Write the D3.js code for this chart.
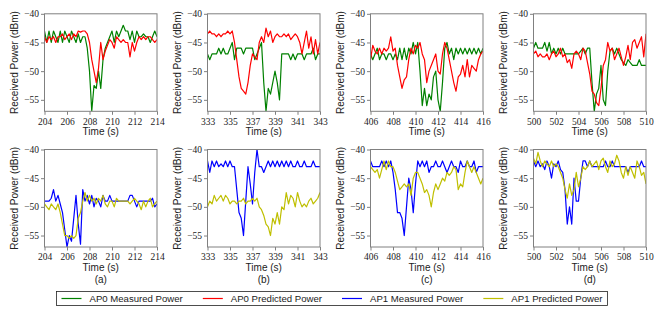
<!DOCTYPE html>
<html>
<head>
<meta charset="utf-8">
<script src="https://cdn.jsdelivr.net/npm/d3@7"></script>
<style>
  body { margin: 0; background: #fff; }
  svg { display: block; }
</style>
</head>
<body>
<div id="chart"></div>
<script>
// time window start of each panel (s), samples every 0.2 s over 10 s
const panelStarts = [204, 333, 406, 500];
const sampleStep = 0.2;
const panelNames = ["(a)", "(b)", "(c)", "(d)"];
const yTicks = [-40, -45, -50, -55];

// AP0 (top row)
const ap0MeasA = [-43,-45,-43,-45,-43,-44,-45,-43,-45,-43, -44,-45,-43,-44,-45,-43.5,-45,-44,-44,-46, -50,-57,-52.5,-53,-50,-53,-48,-46,-45,-44, -43,-45,-43,-44,-43,-42,-43,-43,-44.5,-43, -45,-43,-44,-44,-43.5,-44,-44,-45,-44,-43, -44];
const ap0PredA = [-44,-45,-44,-44.5,-44,-45,-44,-44,-43.5,-44.5, -44,-43.5,-44.5,-43.5,-44,-43,-43.2,-43,-43,-43.5, -45,-48,-50,-52,-49.5,-45,-48,-46.5,-45.5,-44.5, -45,-46,-44,-44.5,-45,-44.5,-45,-45,-47.5,-45, -46.5,-45,-44,-44.5,-44,-44.5,-44,-44,-44.5,-45, -44.5];
const ap0MeasB = [-47,-48,-47,-47,-47,-46,-47,-46,-47,-47, -46,-45,-48,-46,-46,-46,-47,-46,-46,-46, -46,-48,-47,-46,-45,-52,-57,-53,-54,-52, -50,-52,-55,-47,-47,-47,-47,-48,-47,-48, -47,-47,-47,-48,-47,-47,-47,-46,-48,-47, -47];
const ap0PredB = [-43.5,-43,-43.5,-43.5,-44,-43.5,-44,-43.5,-43.5,-43, -43.5,-43,-45,-48,-51,-53,-53.5,-54,-52,-49, -47,-47.5,-48,-45,-44,-45,-42.5,-44,-43,-45, -44,-43.5,-44,-44,-43.5,-44,-43.5,-44.5,-44,-43.5, -44,-45,-47,-45,-43,-46,-44,-47,-44.5,-47, -45];
const ap0MeasC = [-47,-48,-47,-46,-48,-47,-47,-48,-47,-47, -48,-47,-48,-46,-48,-46,-48,-46,-47,-45, -47,-45,-50,-56,-53,-56,-54,-55,-51,-50, -55,-57,-52,-46,-45,-47,-46,-48,-46,-47, -46,-47,-46,-47,-46,-47,-46,-47,-46,-47, -46];
const ap0PredC = [-48,-45.5,-46.5,-47,-46,-47,-46,-46.5,-46,-44, -46.5,-46,-49,-51,-53,-51.5,-51,-48,-46,-47, -45.5,-46,-45,-47,-48,-52,-50,-49,-48,-47, -50,-50.5,-47,-45,-46,-48,-50,-52,-53.5,-51, -50.5,-49,-51,-48,-51,-49,-49.5,-50,-48,-47, -46.5];
const ap0MeasD = [-46,-45,-46,-46,-46,-45,-46.5,-45,-47,-46, -47,-46,-47,-46,-47,-47,-47,-47,-47,-47, -47,-46.5,-46,-47,-46,-46,-52,-57,-54,-53, -49,-55,-56,-50,-46.5,-46,-47,-46,-47,-48, -48.5,-49,-48,-48.5,-49,-49,-49,-48,-49,-49, -49];
const ap0PredD = [-47,-46.5,-47.5,-47,-47.5,-47.5,-47,-48,-47,-46.5, -47.5,-47,-46,-47.5,-47,-48.5,-48,-49.5,-47,-46.5, -47,-48,-46,-46.5,-48.5,-50.5,-53.5,-54,-55.5,-56, -53,-49,-48,-45,-46.5,-46,-48,-47,-46,-47.5, -49,-47.5,-45.5,-48,-45,-44.5,-46,-45,-44,-47.5, -43.5];

// AP1 (bottom row)
const ap1MeasA = [-49,-49,-49,-48.5,-47,-49,-48,-49.5,-51,-54, -57,-55,-56,-52,-48,-53,-56.5,-47,-49,-48, -49.5,-48,-50,-48.5,-49,-50,-48,-49,-49,-48, -49,-49,-49,-49,-49,-49,-49,-49,-48,-48, -49,-50,-49,-49,-49,-49,-49,-49,-48.5,-50, -49.5];
const ap1PredA = [-49.5,-50,-50.5,-49.5,-50,-50.5,-49.5,-51,-53,-55, -55,-55.5,-55,-55.5,-55,-52,-51,-49,-47.5,-49, -48,-49,-48.5,-49.5,-48.5,-49,-48,-49.5,-50,-49, -49,-50,-48.5,-49,-49,-49,-49,-49,-49.5,-49, -48.5,-49,-49.5,-50.5,-49,-50,-49,-48.5,-50,-49.5, -49];
const ap1MeasB = [-42,-44,-42,-43,-42,-43,-42.5,-43,-42,-43, -42,-43,-43,-47,-51,-52,-55,-49,-43,-46, -49.5,-44,-40,-43,-43,-44,-43,-42,-43,-42, -43,-42,-43,-42,-43,-42,-43,-42,-43,-43, -42,-43,-43,-42,-43,-43,-43,-42,-43,-43, -43];
const ap1PredB = [-50,-49,-49.5,-48,-49,-48.5,-48,-49,-48,-48.5, -49.5,-49,-49,-49.5,-49,-49,-48.5,-49.5,-49,-49, -48.5,-49,-48.5,-50,-50.5,-51.5,-53,-53.5,-55,-52, -53,-51,-53,-50,-50.5,-47.5,-49.5,-48,-48.5,-50, -47.5,-49,-50,-49.5,-50,-49,-48.5,-49.5,-49,-48.5, -47.5];
const ap1MeasC = [-42,-43,-43,-43,-43,-42,-43,-42,-43,-42, -44,-47,-51,-51,-52,-55,-50,-45,-47,-51, -46,-42,-43,-42,-43,-42,-44,-43,-43,-42, -43,-43,-42,-43,-44,-43,-42,-43,-43,-44, -42,-43,-43,-42,-43,-43,-42,-44,-43,-43, -43];
const ap1PredC = [-43,-43.5,-44,-43.5,-45,-43.5,-42,-43.5,-42,-43, -43,-44,-45.5,-47,-46.5,-46,-46.5,-46,-48,-45, -44,-44,-45,-46,-47.5,-47,-48,-50,-47.5,-46, -47,-46,-45,-45.5,-44,-44.5,-44,-43,-43.5,-47, -46,-46.5,-44,-42,-43,-44,-43,-44,-45,-46, -45];
const ap1MeasD = [-42,-43,-42,-43,-42.5,-43.5,-42,-43,-45,-42.5, -43,-42,-43.5,-44,-47,-53,-50,-53,-45,-49, -49,-45,-42,-42,-43,-42,-43,-43,-43,-43, -43,-43,-42,-43,-43,-42,-43,-43,-43,-43, -43,-43,-44,-43,-43,-43,-43,-43,-42,-43, -43];
const ap1PredD = [-41.5,-42.5,-40.5,-42,-43,-42,-42.5,-43,-42,-43, -42.5,-43,-44,-45,-47,-48.5,-46,-48,-47,-44, -46.5,-45,-43,-43.5,-43,-42,-43,-42.5,-42,-43.5, -42,-41.5,-43,-44,-42,-43,-42.5,-41,-42,-44, -45,-43,-44.5,-43,-44,-45,-42,-43,-44.5,-44, -46];

const seriesNames = ["AP0 Measured Power", "AP0 Predicted Power", "AP1 Measured Power", "AP1 Predicted Power"];
const seriesColors = ["#008000", "#ff0000", "#0000ff", "#bfbf00"];

const rows = [
    { series: [0, 1], data: [[ap0MeasA, ap0PredA], [ap0MeasB, ap0PredB], [ap0MeasC, ap0PredC], [ap0MeasD, ap0PredD]] },
    { series: [2, 3], data: [[ap1MeasA, ap1PredA], [ap1MeasB, ap1PredB], [ap1MeasC, ap1PredC], [ap1MeasD, ap1PredD]] }
];

const width = 664, height = 310;
const svg = d3.select("#chart").append("svg").attr("width", width).attr("height", height);

const panelW = 112.5, panelH = 97.5;
const panelX = i => 44.5 + i * 163;
const rowY = [13.8, 149.5];
const sans = "'Liberation Sans', Arial, sans-serif";
const serif = "'Liberation Serif', 'DejaVu Serif', serif";
const frameColor = "#808080";

rows.forEach((row, r) => {
    panelStarts.forEach((start, p) => {
        const g = svg.append("g").attr("transform", `translate(${panelX(p)},${rowY[r]})`);
        const x = d3.scaleLinear().domain([start, start + 10]).range([0, panelW]);
        const y = d3.scaleLinear().domain([-57, -40]).range([panelH, 0]);

        const clipId = `clip-${r}-${p}`;
        g.append("clipPath").attr("id", clipId)
            .append("rect").attr("width", panelW).attr("height", panelH);

        const line = d3.line()
            .x((d, i) => x(start + i * sampleStep))
            .y(d => y(d));

        row.data[p].forEach((values, k) => {
            g.append("path")
                .attr("clip-path", `url(#${clipId})`)
                .attr("d", line(values))
                .attr("fill", "none")
                .attr("stroke", seriesColors[row.series[k]])
                .attr("stroke-width", 1.2)
                .attr("stroke-linejoin", "round");
        });

        g.append("rect")
            .attr("width", panelW).attr("height", panelH)
            .attr("fill", "none").attr("stroke", frameColor).attr("stroke-width", 1);

        const yAxis = g.append("g")
            .call(d3.axisLeft(y).tickValues(yTicks).tickSize(3.5).tickPadding(2)
                .tickFormat(d => "\u2212" + Math.abs(d)));
        const xAxis = g.append("g").attr("transform", `translate(0,${panelH})`)
            .call(d3.axisBottom(x).tickValues(d3.range(start, start + 10.01, 2)).tickSize(3.5).tickPadding(3)
                .tickFormat(d3.format("d")));

        [yAxis, xAxis].forEach(a => {
            a.select(".domain").remove();
            a.selectAll(".tick line").attr("stroke", frameColor);
            a.selectAll(".tick text").attr("fill", "#222")
                .style("font-family", serif).style("font-size", "9.5px");
        });

        g.append("text")
            .attr("transform", `translate(-30.5,${panelH / 2}) rotate(-90)`)
            .attr("text-anchor", "middle").attr("dominant-baseline", "central")
            .style("font-family", sans).style("font-size", "10px").attr("fill", "#222")
            .text("Received Power (dBm)");

        g.append("text")
            .attr("x", panelW / 2).attr("y", panelH + 20.5)
            .attr("text-anchor", "middle").attr("dominant-baseline", "central")
            .style("font-family", sans).style("font-size", "10px").attr("fill", "#222")
            .text("Time (s)");

        if (r === 1) {
            g.append("text")
                .attr("x", panelW / 2).attr("y", panelH + 32)
                .attr("text-anchor", "middle").attr("dominant-baseline", "central")
                .style("font-family", sans).style("font-size", "10px").attr("fill", "#222")
                .text(panelNames[p]);
        }
    });
});

// legend: one row, four columns, centred
const legend = svg.append("g");
const legendY = 298.5;
const items = legend.selectAll("g.item").data(seriesNames).join("g").attr("class", "item");
items.append("line")
    .attr("x1", 0).attr("x2", 20).attr("y1", legendY).attr("y2", legendY)
    .attr("stroke", (d, i) => seriesColors[i]).attr("stroke-width", 1.2);
items.append("text")
    .attr("x", 28).attr("y", legendY).attr("dominant-baseline", "central")
    .style("font-family", sans).style("font-size", "9.6px").attr("fill", "#222")
    .text(d => d);

let cursor = 0;
const offsets = [];
items.each(function() {
    offsets.push(cursor);
    const w = d3.select(this).select("text").node().getComputedTextLength();
    cursor += 28 + w + 20;
});
const totalW = cursor - 20;
const x0 = width / 2 - totalW / 2;
items.attr("transform", (d, i) => `translate(${x0 + offsets[i]},0)`);
legend.insert("rect", ":first-child")
    .attr("x", x0 - 5).attr("y", 291.5)
    .attr("width", totalW + 10).attr("height", 14)
    .attr("fill", "#fff").attr("stroke", "#222").attr("stroke-width", 0.8);
</script>
</body>
</html>
